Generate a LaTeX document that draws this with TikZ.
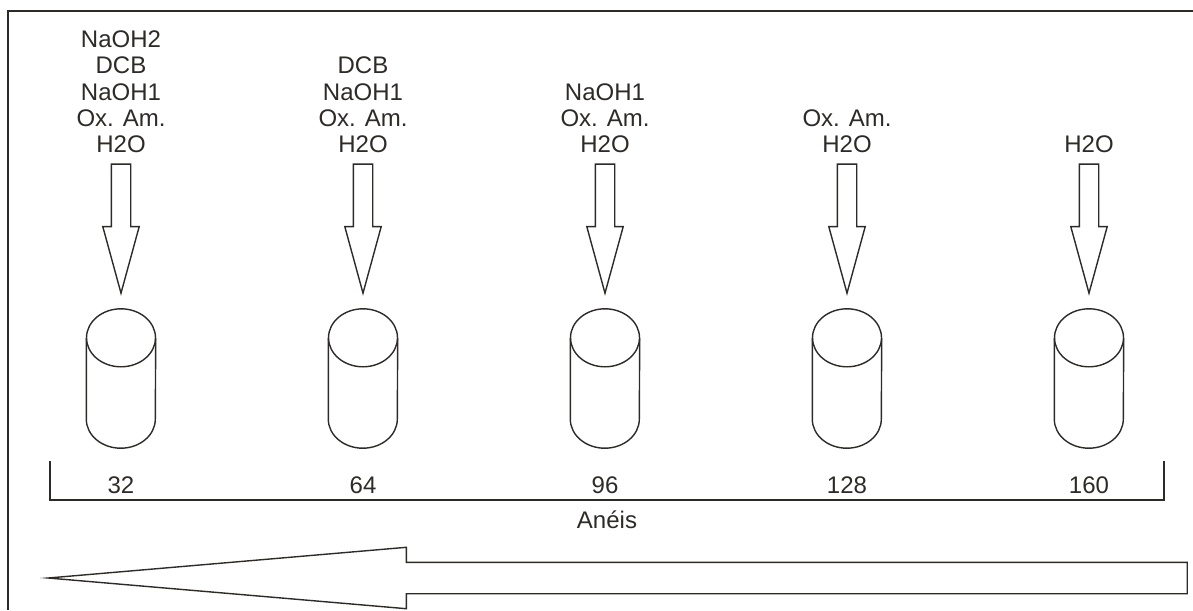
\documentclass[tikz,border=0pt]{standalone}
\usepackage{fontspec}
\setmainfont{Liberation Sans}
\usepackage{tikz}
\usetikzlibrary{shapes.geometric, shapes.arrows, positioning, calc}
\definecolor{mydark}{RGB}{45,42,40}
\tikzset{
  lbl/.style={align=center, inner sep=0pt, anchor=south, text=mydark,
    font=\fontsize{24}{26.25}\selectfont},
  num/.style={inner sep=0pt, anchor=base, text=mydark,
    font=\fontsize{24}{26}\selectfont},
  ring/.style={rectangle, minimum width=69pt, minimum height=139pt,
    inner sep=0pt},
  downarrow/.style={single arrow, shape border rotate=270, draw=mydark,
    line width=1.4pt, minimum height=129pt, inner sep=9pt,
    single arrow head extend=8.5pt, single arrow tip angle=30.6,
    anchor=tip},
  line/.style={line width=1.4pt, color=mydark}
}
% outline of a column drawn on the box of a ring node
\newcommand{\drawring}[1]{%
  \draw[line] ($(#1.north)+(0,29)$) ellipse [x radius=34.5, y radius=29];
  \draw[line] ($(#1.north west)+(0,29)$) -- ($(#1.south west)+(0,-29)$)
    arc [start angle=180, end angle=0, x radius=34.5, y radius=29]
    -- ($(#1.north east)+(0,29)$);}
\begin{document}
\begin{tikzpicture}[x=1pt, y=-1pt,
  flowarrow/.style={single arrow, shape border rotate=180, draw=mydark,
    line width=1.4pt, minimum height=1139pt, inner sep=15pt,
    single arrow head extend=15pt, single arrow tip angle=9.8,
    miter limit=25, anchor=tip}]
  \useasboundingbox (0,0) rectangle (1193,610);

  % frame
  \draw[line, line width=2pt] (8,610) -- (8,11) -- (1193,11);

  % reagent lists
  \node[lbl] (lbl1) at (121,153) {NaOH2\\DCB\\NaOH1\\Ox. Am.\\H2O};
  \node[lbl] (lbl2) at (363,153) {DCB\\NaOH1\\Ox. Am.\\H2O};
  \node[lbl] (lbl3) at (605,153) {NaOH1\\Ox. Am.\\H2O};
  \node[lbl] (lbl4) at (847,153) {Ox. Am.\\H2O};
  \node[lbl] (lbl5) at (1089,153) {H2O};

  % columns
  \node[ring] (cyl1) at (121,378.5) {};
  \node[ring] (cyl2) at (363,378.5) {};
  \node[ring] (cyl3) at (605,378.5) {};
  \node[ring] (cyl4) at (847,378.5) {};
  \node[ring] (cyl5) at (1089,378.5) {};
  \drawring{cyl1}
  \drawring{cyl2}
  \drawring{cyl3}
  \drawring{cyl4}
  \drawring{cyl5}

  % feed arrows
  \node[downarrow] (in1) at ($(cyl1.north)+(0,-13)$) {};
  \node[downarrow] (in2) at ($(cyl2.north)+(0,-13)$) {};
  \node[downarrow] (in3) at ($(cyl3.north)+(0,-13)$) {};
  \node[downarrow] (in4) at ($(cyl4.north)+(0,-13)$) {};
  \node[downarrow] (in5) at ($(cyl5.north)+(0,-13)$) {};

  % ring counts
  \node[num] (n1) at (121,493) {32};
  \node[num] (n2) at (363,493) {64};
  \node[num] (n3) at (605,493) {96};
  \node[num] (n4) at (847,493) {128};
  \node[num] (n5) at (1089,493) {160};
  \draw[line] (50,461) |- (1164,500) coordinate (brk) -- (1164,461);
  \node[num] (axis) at (607,528) {Anéis};

  % flow direction
  \node[flowarrow] (flow) at (40,578) {};
\end{tikzpicture}
\end{document}
